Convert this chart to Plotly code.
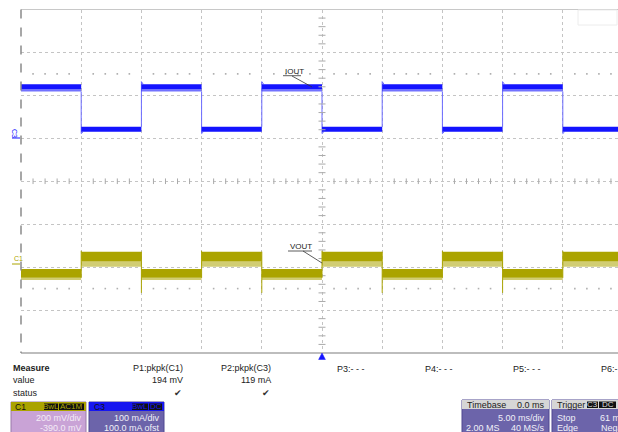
import plotly.graph_objects as go

edge_times_ms = [-25, -20, -15, -10, -5, 0, 5, 10, 15, 20, 25]
iout_state = ["H", "L", "H", "L", "H", "L", "H", "L", "H", "L"]
vout_state = ["L", "H", "L", "H", "L", "H", "L", "H", "L", "H"]

iout_high_core_mA = [115, 126]
iout_high_noise_mA = [109, 115]
iout_low_band_mA = [15, 27]
iout_rise_peak_mA = 132
iout_fall_dip_mA = 11

vout_high_core_mV = [16, 62]
vout_high_noise_mV = [-8, 16]
vout_low_core_mV = [-60, -19]
vout_low_noise_mV = [-70, -60]
vout_fall_dip_mV = -130
vout_rise_peak_mV = 66

meas_labels = ["P1:pkpk(C1)", "P2:pkpk(C3)"]
meas_values = ["194 mV", "119 mA"]
spare_params = ["P3:- - -", "P4:- - -", "P5:- - -", "P6:- -"]

# scope settings
c1_scale_mV, c1_offset_mV = 200, -390.0
c3_scale_mA, c3_offset_mA = 100, 100.0
timebase_ms = 5.0

W, H = 618, 432
BLUE = "#1414ff"
BLUE_LIGHT = "rgba(20,20,255,0.6)"
BLUE_EDGE = "#6a6aff"
OLIVE = "#aba400"
OLIVE_LIGHT = "rgba(171,164,0,0.55)"

def px(x):
    return x / W

def py(y):
    return 1 - y / H

fig = go.Figure()

# ---------------- band polygons ----------------
def band_trace(states, level, band, color, yaxis):
    xs, ys = [], []
    for i, s in enumerate(states):
        if s != level:
            continue
        t0, t1 = edge_times_ms[i], edge_times_ms[i + 1]
        xs += [t0, t1, t1, t0, t0, None]
        ys += [band[0], band[0], band[1], band[1], band[0], None]
    return go.Scatter(x=xs, y=ys, fill="toself", fillcolor=color, mode="lines",
                      line=dict(width=0, color=color), yaxis=yaxis,
                      hoverinfo="skip", showlegend=False)

# IOUT transitions
ix, iy = [], []
for i in range(1, len(iout_state)):
    t = edge_times_ms[i]
    if iout_state[i] == "H":
        ix += [t, t, t + 0.15, None]
        iy += [iout_low_band_mA[1], iout_rise_peak_mA, iout_high_core_mA[1], None]
    else:
        ix += [t, t, t + 0.15, None]
        iy += [iout_high_noise_mA[0], iout_fall_dip_mA, iout_low_band_mA[0], None]
fig.add_trace(go.Scatter(x=ix, y=iy, mode="lines", line=dict(color=BLUE_EDGE, width=1),
                         hoverinfo="skip", showlegend=False))
fig.add_trace(band_trace(iout_state, "H", iout_high_noise_mA, BLUE_LIGHT, "y"))
fig.add_trace(band_trace(iout_state, "H", iout_high_core_mA, BLUE, "y"))
fig.add_trace(band_trace(iout_state, "L", iout_low_band_mA, BLUE, "y"))

# VOUT transitions
vx, vy = [], []
for i in range(1, len(vout_state)):
    t = edge_times_ms[i]
    if vout_state[i] == "H":
        vx += [t, t, None]
        vy += [vout_low_core_mV[0], vout_rise_peak_mV, None]
    else:
        vx += [t, t, None]
        vy += [vout_high_core_mV[1], vout_fall_dip_mV, None]
fig.add_trace(go.Scatter(x=vx, y=vy, mode="lines", line=dict(color=OLIVE, width=1),
                         yaxis="y2", hoverinfo="skip", showlegend=False))
fig.add_trace(band_trace(vout_state, "H", vout_high_noise_mV, OLIVE_LIGHT, "y2"))
fig.add_trace(band_trace(vout_state, "L", vout_low_noise_mV, OLIVE_LIGHT, "y2"))
fig.add_trace(band_trace(vout_state, "H", vout_high_core_mV, OLIVE, "y2"))
fig.add_trace(band_trace(vout_state, "L", vout_low_core_mV, OLIVE, "y2"))

# ---------------- graticule decorations ----------------
t_lo, t_hi = -5 * timebase_ms, 5 * timebase_ms
c3_center = -c3_offset_mA
y_lo, y_hi = c3_center - 4 * c3_scale_mA, c3_center + 4 * c3_scale_mA

# minor ticks on center cross-hair
minor_t = [t_lo + k * timebase_ms / 5 for k in range(51) if k % 5]
minor_y = [y_lo + k * c3_scale_mA / 5 for k in range(41) if k % 5]
fig.add_trace(go.Scatter(x=minor_t, y=[c3_center] * len(minor_t), mode="markers",
                         marker=dict(symbol="line-ns", size=4, line=dict(width=1, color="#aaaaaa")),
                         hoverinfo="skip", showlegend=False))
fig.add_trace(go.Scatter(x=[0] * len(minor_y), y=minor_y, mode="markers",
                         marker=dict(symbol="line-ew", size=5, line=dict(width=1, color="#aaaaaa")),
                         hoverinfo="skip", showlegend=False))
# dotted rows at +/-2.5 div
for row in (c3_center + 2.5 * c3_scale_mA, c3_center - 2.5 * c3_scale_mA):
    fig.add_trace(go.Scatter(x=minor_t, y=[row] * len(minor_t), mode="markers",
                             marker=dict(symbol="square", size=1.6, color="#b0b0b0"),
                             hoverinfo="skip", showlegend=False))

x_right = t_lo + 10 * timebase_ms * (W - 21) / 602.0

axis_common = dict(showticklabels=False, ticks="", zeroline=False, showline=False,
                   gridcolor="#c4c4c4", griddash="dot", gridwidth=1)
fig.update_layout(
    width=W, height=H, margin=dict(l=0, r=0, t=0, b=0),
    paper_bgcolor="white", plot_bgcolor="white", showlegend=False,
    xaxis=dict(domain=[21 / W, 1], range=[t_lo, x_right], dtick=timebase_ms, tick0=t_lo,
               showgrid=True, **axis_common),
    yaxis=dict(domain=[py(353), py(9.5)], range=[y_lo, y_hi], dtick=c3_scale_mA, tick0=y_lo,
               showgrid=True, **axis_common),
    yaxis2=dict(overlaying="y", range=[-c1_offset_mV - 4 * c1_scale_mV, -c1_offset_mV + 4 * c1_scale_mV],
                showgrid=False, showticklabels=False, ticks="", zeroline=False, showline=False),
    font=dict(family="Liberation Sans, Arial, sans-serif", size=9, color="#222"),
)

shapes = []
# borders
shapes.append(dict(type="line", xref="paper", yref="paper", x0=px(21), x1=1, y0=py(9.5), y1=py(9.5),
                   line=dict(color="#c8c8c8", width=1)))
shapes.append(dict(type="line", xref="paper", yref="paper", x0=px(21), x1=1, y0=py(353), y1=py(353),
                   line=dict(color="#bdbdbd", width=2)))
shapes.append(dict(type="line", xref="paper", yref="paper", x0=px(21), x1=px(21), y0=py(9.5), y1=py(353),
                   line=dict(color="#8a8a8a", width=1.5, dash="dash")))
shapes.append(dict(type="rect", xref="paper", yref="paper", x0=px(578), x1=px(617), y0=py(10), y1=py(25),
                   line=dict(color="#ececec", width=1), fillcolor="rgba(0,0,0,0)"))
# trigger arrow under the time-zero line
shapes.append(dict(type="path", xref="x", yref="paper",
                   path=f"M -0.28,{py(359.5)} L 0.28,{py(359.5)} L 0,{py(353)} Z",
                   fillcolor=BLUE, line=dict(color=BLUE, width=0.5)))

# label leaders
def pline(x0, y0, x1, y1, color="#333", w=0.8):
    shapes.append(dict(type="line", xref="paper", yref="paper", x0=px(x0), x1=px(x1),
                       y0=py(y0), y1=py(y1), line=dict(color=color, width=w)))

pline(283, 75.7, 301, 75.7)
pline(292, 76, 312, 87)
pline(288, 251, 312, 251)
pline(303, 251, 322, 263)
pline(12, 264, 20, 264, OLIVE, 1)
pline(12, 138, 20, 138, BLUE, 1)

# boxes
def rect(x0, y0, x1, y1, fill, line="rgba(0,0,0,0)", lw=0):
    shapes.append(dict(type="rect", xref="paper", yref="paper", x0=px(x0), x1=px(x1),
                       y0=py(y1), y1=py(y0), fillcolor=fill, line=dict(color=line, width=lw)))

rect(11, 402, 86, 440, "#c9a3d6", "#9a7aa8", 1)
rect(11, 402, 86, 411, "#aaa300")
rect(44, 403.5, 58, 410, "#111")
rect(59, 403.5, 84, 410, "#111")
rect(89, 402, 164, 440, "#6c64aa", "#4e4790", 1)
rect(89, 402, 164, 411, "#1616f0")
rect(132, 403.5, 148, 410, "#111")
rect(149, 403.5, 162, 410, "#111")
rect(462, 400, 549, 440, "#6c64aa", "#4e4790", 1)
rect(462, 400, 549, 409, "#d6d6d6")
rect(552, 400, 630, 440, "#6c64aa", "#4e4790", 1)
rect(552, 400, 630, 409, "#d6d6d6")
rect(587, 401.5, 598, 408, "#111")
rect(599, 401.5, 616, 408, "#111")

fig.update_layout(shapes=shapes)

ann = []
def text(x, y, s, anchor="left", size=9, color="#222", bold=False, angle=0):
    ann.append(dict(x=px(x), y=py(y), xref="paper", yref="paper", text=f"<b>{s}</b>" if bold else s,
                    showarrow=False, xanchor=anchor, yanchor="middle", textangle=angle,
                    font=dict(size=size, color=color)))

text(283, 71, "IOUT", size=8)
text(288, 246, "VOUT", size=8)
text(12, 258, "C1", size=7, color=OLIVE)
text(15, 133, "C3", size=7, color=BLUE, anchor="center", angle=90)

text(11, 368, "Measure", bold=True)
text(11, 380, "value")
text(11, 392.5, "status")
meas_right = [185, 273]
for lab, val, xr in zip(meas_labels, meas_values, meas_right):
    text(xr, 368, lab, anchor="right")
    text(xr, 380, val, anchor="right")
    text(xr - 1, 392.5, "\u2714", anchor="right", size=9, color="#333")
for lab, xl in zip(spare_params, [335, 423, 511, 599]):
    text(xl, 368.5, lab)

# channel boxes
text(13, 406.5, "C1", size=8.5, color="#111")
text(51, 406.8, "BwL", anchor="center", size=8, color=OLIVE)
text(71.5, 406.8, "AC1M", anchor="center", size=8, color=OLIVE)
text(84, 418, f"{c1_scale_mV} mV/div", anchor="right", color="#f4ecf6")
text(84, 427.5, f"{c1_offset_mV:.1f} mV", anchor="right", color="#f4ecf6")

text(92, 406.5, "C3", size=8.5, color="#111")
text(140, 406.8, "BwL", anchor="center", size=8, color="#1616f0")
text(155.5, 406.8, "DC", anchor="center", size=8, color="#1616f0")
text(162, 418, f"{c3_scale_mA} mA/div", anchor="right", color="#f0f0f8")
text(162, 427.5, f"{c3_offset_mA:.1f} mA ofst", anchor="right", color="#f0f0f8")

text(465, 404.5, "Timebase", color="#222")
text(547, 404.5, "0.0 ms", anchor="right", color="#222")
text(547, 418, f"{timebase_ms:.2f} ms/div", anchor="right", color="#f0f0f8")
text(464, 427.5, "2.00 MS", color="#f0f0f8")
text(547, 427.5, "40 MS/s", anchor="right", color="#f0f0f8")

text(555, 404.5, "Trigger", color="#222")
text(592.5, 404.7, "C3", anchor="center", size=8, color="#ddd")
text(607.5, 404.7, "DC", anchor="center", size=8, color="#ddd")
text(555, 418, "Stop", color="#f0f0f8")
text(598, 418, "61 ms", color="#f0f0f8")
text(555, 427.5, "Edge", color="#f0f0f8")
text(599, 427.5, "Negative", color="#f0f0f8")

fig.update_layout(annotations=ann)
fig.write_html("out.html", config={"displayModeBar": False},
               post_script="document.body.style.margin='0px';document.body.style.overflow='hidden';")
